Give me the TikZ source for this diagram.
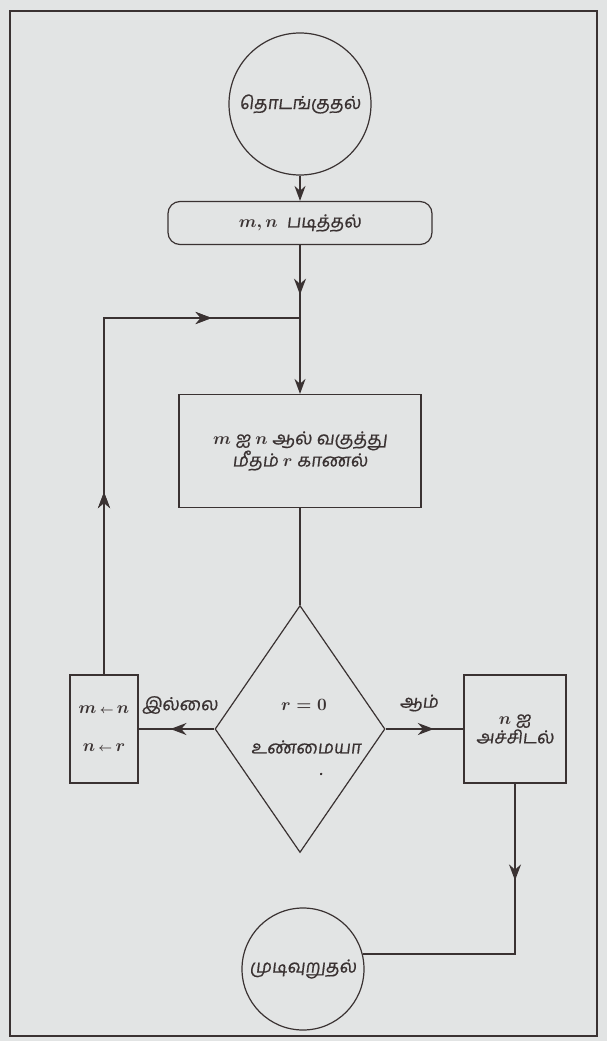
\documentclass[tikz,border=0pt]{standalone}
\usepackage{fontspec}
\newfontfamily\tamil[Script=Tamil,FakeSlant=0.12,FakeBold=0.6]{Hind Madurai}
\usetikzlibrary{shapes.geometric,arrows.meta,decorations.markings}
\definecolor{bg}{RGB}{226,228,228}
\definecolor{ink}{RGB}{58,50,50}
\tikzset{
  shapebox/.style={draw=ink, line width=1.2pt, inner sep=2pt, font=\tamil\fontsize{18}{22}\selectfont\boldmath, text=ink, align=center},
  conn/.style={draw=ink, line width=1.8pt},
  tipend/.style={conn, -{Stealth[length=15pt,width=11pt]}},
  midtip/.style={conn, postaction={decorate}, decoration={markings, mark=at position #1 with {\arrow{Stealth[length=16pt,width=12pt]}}}},
  lbl/.style={font=\tamil\fontsize{18}{22}\selectfont\boldmath, text=ink, inner sep=1pt}
}
\begin{document}
\begin{tikzpicture}[x=1pt,y=-1pt]
\fill[bg] (0,0) rectangle (607,1041);
\useasboundingbox (0,0) rectangle (607,1041);
\draw[ink, line width=1.2pt] (10,11) rectangle (597,1036);

\node[shapebox, circle, minimum size=142pt, inner sep=0pt] (start) at (300,104) {தொடங்குதல்};
\node[shapebox, rounded corners=12pt, minimum width=264pt, minimum height=43pt] (read) at (300,223) {$m,n$\ \ படித்தல்};
\coordinate (j) at (300,318);
\node[shapebox, minimum width=242pt, minimum height=113pt] (proc) at (300,451) {$m$ ஐ $n$ ஆல் வகுத்து\\[0pt] மீதம் $r$ காணல்};
\node[draw=ink, line width=1.2pt, diamond, minimum width=170pt, minimum height=247pt, inner sep=0pt] (dec) at (300,729) {};
\node[lbl] (dtop) at (304,705) {$r=0$};
\node[lbl] (dmid) at (306,747) {உண்மையா};
\node[lbl] (ddot) at (321,774) {.};
\node[shapebox, minimum width=102pt, minimum height=108pt] (print) at (515,729) {$n$ ஐ\\[-3pt] அச்சிடல்};
\node[shapebox, minimum width=68pt, minimum height=108pt] (upd) at (104,729) {$m\,{\scriptstyle\leftarrow}\,n$\\[16pt]$n\,{\scriptstyle\leftarrow}\,r$};
\node[shapebox, circle, minimum size=122pt, inner sep=0pt] (end) at (303,969) {முடிவுறுதல்};

\node[lbl] (no) at (180,705) {இல்லை};
\node[lbl] (yes) at (419,703) {ஆம்};

\draw[tipend] (start) -- (read);
\draw[midtip=0.68] (read.south) -- (j);
\draw[tipend] (j) -- (proc.north);
\draw[conn] (proc.south) -- (dec.north);
\draw[midtip=0.62] (dec.east) -- (print.west);
\draw[midtip=0.58] (dec.west) -- (upd.east);
\draw[midtip/.list={0.33,0.84}] (upd.north) -- (upd.north |- j) -- (j);
\draw[midtip=0.3] (print.south) -- (print.south |- end.14) -- (end.14);
\end{tikzpicture}
\end{document}
